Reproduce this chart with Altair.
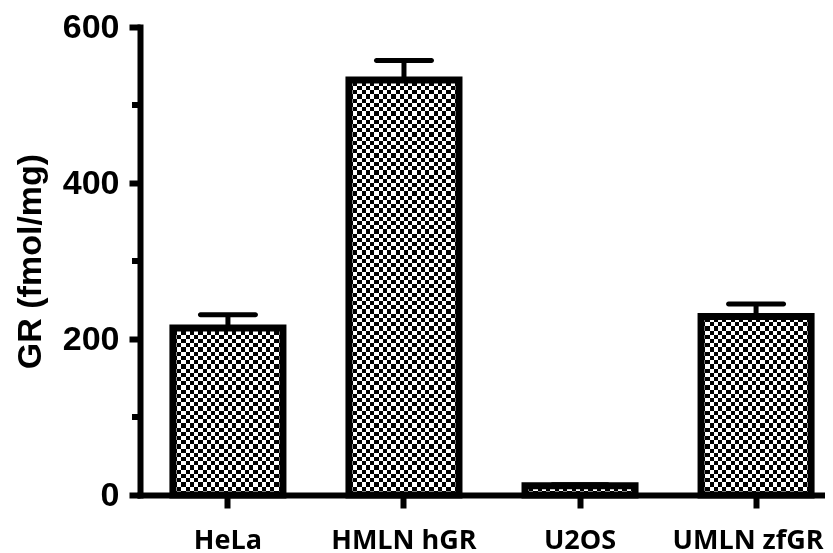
import altair as alt
import pandas as pd

# ---- data ----
categories = ["HeLa", "HMLN hGR", "U2OS", "UMLN zfGR"]
values = [214, 532, 12, 229]
errors = [17, 25, 1, 16]
y_ticks_major = [0, 200, 400, 600]
y_ticks_minor = [100, 300, 500]
Y_MAX = 600

df = pd.DataFrame({"cat": categories, "val": values, "err": errors})
df["hi"] = df["val"] + df["err"]
df["top"] = Y_MAX
minor_df = pd.DataFrame({"tick": y_ticks_minor})

PLOT_W = 685
PLOT_H = 468


def stripes(n, vertical):
    stops = []
    for i in range(n):
        c = "black" if i % 2 else "white"
        stops.append({"offset": i / n, "color": c})
        stops.append({"offset": (i + 1) / n, "color": c})
    g = {"gradient": "linear", "stops": stops,
         "x1": 0, "y1": 0,
         "x2": 1 if vertical else 0, "y2": 0 if vertical else 1}
    return g


vgrad = stripes(26, True)
hgrad = stripes(111, False)

yscale = alt.Scale(domain=[0, Y_MAX], nice=False)
xscale = alt.Scale(range=[0, 704], paddingInner=0.375, paddingOuter=0.187)

last_label_test = "datum.value === '" + categories[-1] + "'"

xaxis = alt.Axis(
    title=None, labelAngle=0, domainWidth=6, domainColor="black", domainCap="square",
    tickWidth=6, tickColor="black", tickSize=13, grid=False,
    labelFont="Open Sans", labelFontWeight="bold", labelFontSize=27, labelColor="black",
    labelBaseline="alphabetic", labelPadding=40,
    labelOffset={"condition": {"test": last_label_test, "value": -8}, "value": 0},
)
yaxis = alt.Axis(
    values=y_ticks_major, grid=False,
    domainWidth=6, domainColor="black", domainCap="square",
    tickWidth=6, tickColor="black", tickSize=11,
    labelFont="Liberation Sans", labelFontWeight="bold", labelFontSize=34, labelColor="black",
    labelPadding=10,
    title="GR (fmol/mg)", titleFont="Liberation Sans", titleFontWeight="bold",
    titleFontSize=34, titleColor="black", titleAngle=270, titleX=-110, titleY=234,
    titleAlign="center", titleBaseline="middle",
)

X = alt.X("cat:N", sort=categories, scale=xscale, axis=xaxis)


def Y(field):
    return alt.Y(field, scale=yscale, axis=yaxis)


base = alt.Chart(df)

hstripes = base.mark_bar(fill=hgrad).encode(x=X, y=Y("top:Q"))
vstripes = base.mark_bar(fill=vgrad, blend="difference").encode(x=X, y=Y("val:Q"))
mask = base.mark_bar(fill="white", stroke="white", strokeWidth=2).encode(
    x=X, y=Y("val:Q"), y2="top:Q"
)
outline = base.mark_bar(fillOpacity=0, stroke="black", strokeWidth=7).encode(
    x=X, y=Y("val:Q")
)
stem = base.mark_rule(color="black", strokeWidth=5).encode(
    x=X, y=Y("val:Q"), y2="hi:Q"
)
cap = base.mark_tick(color="black", thickness=5, size=60, cornerRadius=2.5, opacity=1).encode(
    x=X, y=Y("hi:Q")
)
minor = alt.Chart(minor_df).mark_rule(color="black", strokeWidth=6).encode(
    y=Y("tick:Q"), x=alt.value(0), x2=alt.value(-8)
)

chart = alt.layer(hstripes, vstripes, mask, outline, stem, cap, minor).properties(
    width=PLOT_W, height=PLOT_H,
    autosize=alt.AutoSizeParams(type="none"),
    padding={"left": 132, "top": 19, "right": 0, "bottom": 58},
    background="white",
).configure_view(stroke=None)

chart.save("out.html", embed_options={"renderer": "svg", "actions": False})
